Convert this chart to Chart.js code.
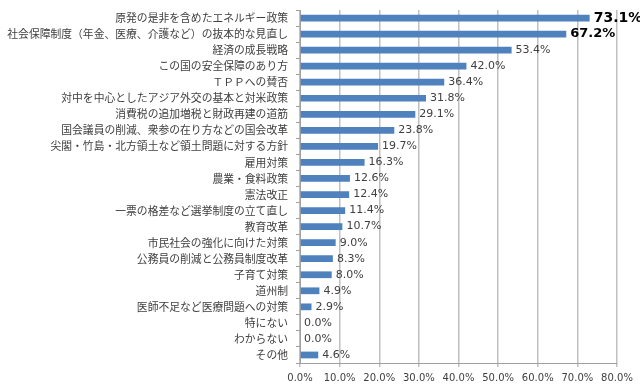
<!DOCTYPE html>
<html>
<head>
<meta charset="utf-8">
<script src="https://cdn.jsdelivr.net/npm/chart.js@4/dist/chart.umd.min.js"></script>
<style>
    html, body { margin: 0; padding: 0; background: #ffffff; }
</style>
</head>
<body>
<canvas id="issues-chart" width="640" height="390"></canvas>
<script>
const categories = [
    '原発の是非を含めたエネルギー政策',
    '社会保障制度（年金、医療、介護など）の抜本的な見直し',
    '経済の成長戦略',
    'この国の安全保障のあり方',
    'ＴＰＰへの賛否',
    '対中を中心としたアジア外交の基本と対米政策',
    '消費税の追加増税と財政再建の道筋',
    '国会議員の削減、衆参の在り方などの国会改革',
    '尖閣・竹島・北方領土など領土問題に対する方針',
    '雇用対策',
    '農業・食料政策',
    '憲法改正',
    '一票の格差など選挙制度の立て直し',
    '教育改革',
    '市民社会の強化に向けた対策',
    '公務員の削減と公務員制度改革',
    '子育て対策',
    '道州制',
    '医師不足など医療問題への対策',
    '特にない',
    'わからない',
    'その他'
];

const percentages = [73.1, 67.2, 53.4, 42.0, 36.4, 31.8, 29.1, 23.8, 19.7, 16.3, 12.6, 12.4, 11.4, 10.7, 9.0, 8.3, 8.0, 4.9, 2.9, 0.0, 0.0, 4.6];

// labels drawn bigger and bold for the top two answers
const highlighted = [0, 1];

const barLabels = {
    id: 'barLabels',
    afterDatasetsDraw(chart) {
        let ctx = chart.ctx;
        let meta = chart.getDatasetMeta(0);
        ctx.save();
        ctx.textBaseline = 'middle';
        ctx.textAlign = 'left';
        meta.data.forEach((bar, i) => {
            let text = percentages[i].toFixed(1) + '%';
            if (i === 0) {
                ctx.font = 'bold 14px "DejaVu Sans"';
                ctx.fillStyle = '#000000';
            } else if (highlighted.includes(i)) {
                ctx.font = 'bold 13px "DejaVu Sans"';
                ctx.fillStyle = '#000000';
            } else {
                ctx.font = '11px "DejaVu Sans"';
                ctx.fillStyle = '#404040';
            }
            ctx.fillText(text, bar.x + 4, bar.y);
        });
        ctx.restore();
    }
};

let ctx = document.getElementById('issues-chart');

let issuesChart = new Chart(ctx, {
    type: 'bar',
    data: {
        labels: categories,
        datasets: [{
            data: percentages,
            backgroundColor: '#4f81bd',
            borderWidth: 0,
            barPercentage: 0.42,
            categoryPercentage: 1
        }]
    },
    options: {
        indexAxis: 'y',
        responsive: false,
        animation: false,
        layout: {
            padding: { top: 10, right: 23, left: 0, bottom: 0 }
        },
        plugins: {
            legend: { display: false },
            tooltip: { enabled: false }
        },
        scales: {
            x: {
                min: 0,
                max: 80,
                afterFit: scale => {
                    scale.height = 27;
                    scale.paddingLeft = 0;
                    scale.paddingRight = 0;
                },
                ticks: {
                    stepSize: 10,
                    color: '#404040',
                    font: { family: 'DejaVu Sans', size: 10 },
                    padding: 5,
                    maxRotation: 0,
                    callback: value => value.toFixed(1) + '%'
                },
                grid: {
                    color: '#c0c0c0',
                    lineWidth: 1.5,
                    tickLength: 4
                },
                border: { color: '#a0a0a0' }
            },
            y: {
                afterFit: scale => {
                    scale.width = 300;
                    scale.paddingTop = 0;
                    scale.paddingBottom = 0;
                },
                ticks: {
                    color: '#404040',
                    font: { family: 'Noto Sans CJK JP', size: 10.8 },
                    padding: 8,
                    autoSkip: false
                },
                grid: {
                    offset: true,
                    drawOnChartArea: false,
                    color: '#a0a0a0',
                    tickLength: 4
                },
                border: { color: '#a0a0a0' }
            }
        }
    },
    plugins: [barLabels]
});
</script>
</body>
</html>
